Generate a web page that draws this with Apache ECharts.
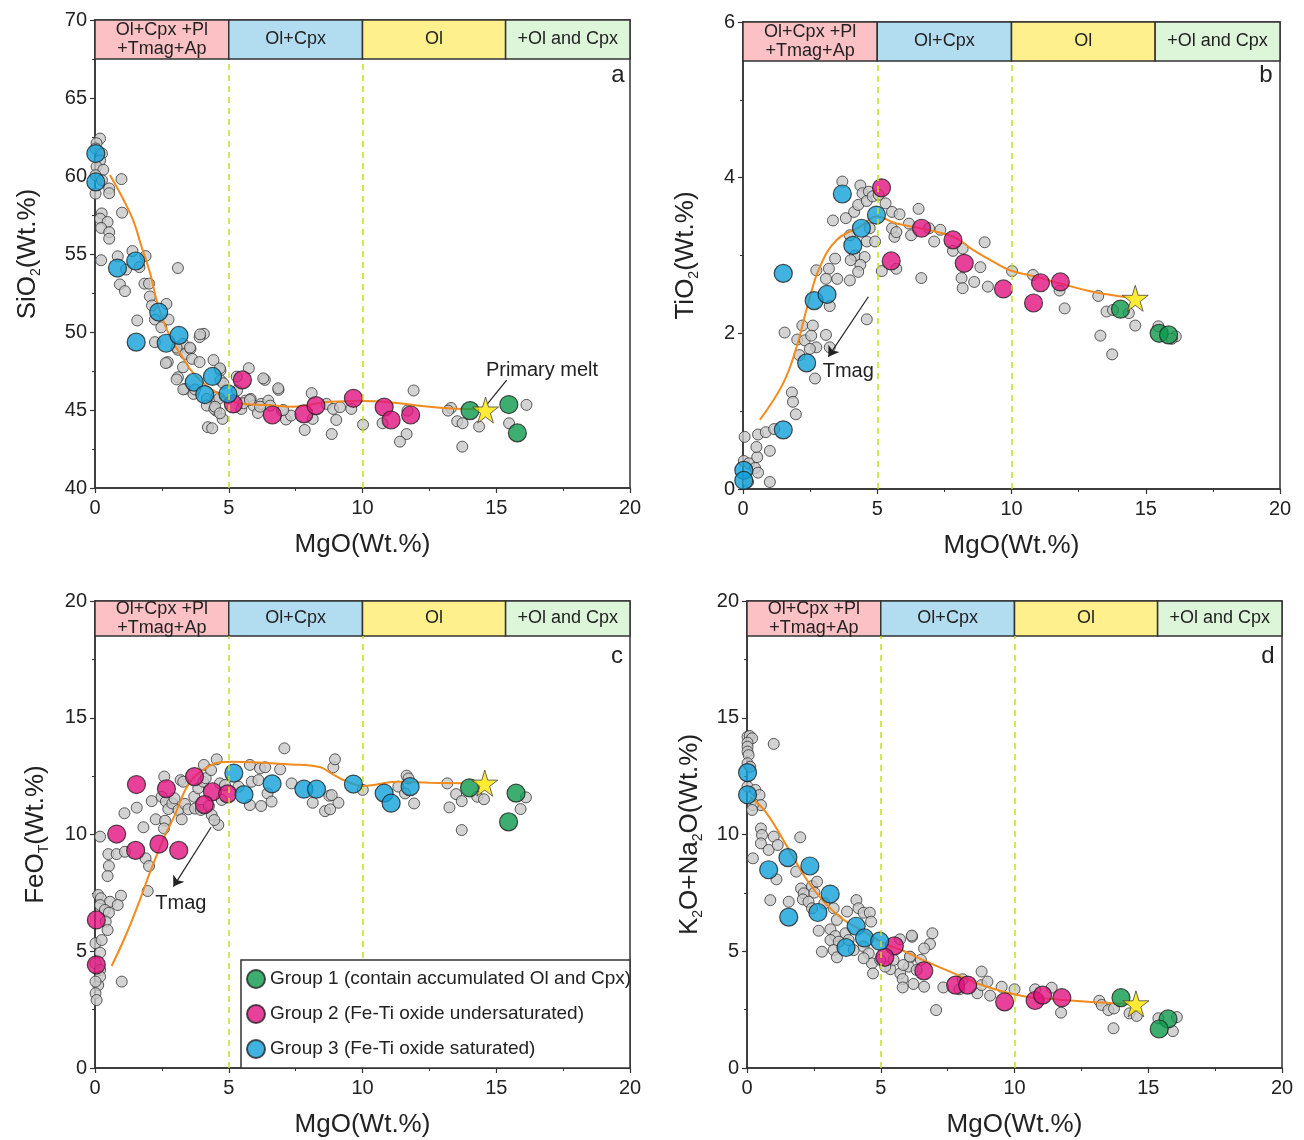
<!DOCTYPE html>
<html>
<head>
<meta charset="utf-8">
<title>MgO variation diagrams</title>
<script src="https://cdn.jsdelivr.net/npm/echarts@6/dist/echarts.min.js"></script>
<style>
  html, body { margin: 0; padding: 0; background: #fff; }
  #chart { width: 1304px; height: 1140px; }
</style>
</head>
<body>
<div id="chart"></div>
<script>
// crystallisation stages along MgO
const bandStops = [0, 5, 10, 15.35, 20];
const bandNames = ['Ol+Cpx +Pl\n+Tmag+Ap', 'Ol+Cpx', 'Ol', '+Ol and Cpx'];
const groupNames = ['Group 1 (contain accumulated Ol and Cpx)', 'Group 2 (Fe-Ti oxide undersaturated)', 'Group 3 (Fe-Ti oxide saturated)'];

// ---- a: SiO2 ----
const aGray = [[0.19,62.4],[0.06,62.1],[0.02,61.76],[0.26,61.44],[0.19,61.0],[0.06,60.6],[0.31,60.4],[0.02,60.05],[0.26,59.73],[0.02,58.87],[0.53,59.2],[0.53,58.9],[0.99,59.8],[0.25,57.6],[0.19,57.27],[0.47,57.05],[0.23,56.67],[0.53,56.4],[0.53,55.98],[1.01,57.65],[0.23,54.6],[0.85,54.85],[1.16,54.0],[0.93,53.05],[1.12,52.62],[1.4,55.19],[1.66,54.16],[1.89,54.87],[1.85,53.1],[2.02,53.1],[2.05,52.28],[2.13,51.7],[2.67,51.8],[2.24,50.8],[2.48,50.3],[2.75,50.8],[3.1,54.1],[1.58,50.74],[2.24,49.35],[2.72,48.07],[3.1,48.86],[3.29,49.24],[3.37,48.6],[3.57,48.92],[4.07,49.88],[3.91,49.67],[3.63,48.28],[3.91,48.07],[3.29,47.74],[3.1,47.1],[3.37,46.35],[3.68,46.03],[4.18,45.71],[4.18,45.28],[4.43,48.2],[4.69,47.53],[4.69,46.9],[4.53,45.82],[4.53,44.96],[4.77,44.43],[4.46,45.07],[4.22,43.9],[4.38,43.83],[5.75,47.68],[5.31,46.25],[5.62,45.6],[5.82,45.71],[5.47,45.07],[5.93,45.28],[6.09,44.81],[6.35,46.93],[6.21,45.39],[6.48,45.6],[6.55,45.28],[6.86,46.29],[6.99,44.96],[7.14,44.39],[7.33,44.64],[8.1,46.08],[8.14,44.43],[7.84,43.72],[8.66,45.39],[8.9,45.07],[9.02,44.36],[8.85,43.46],[9.16,45.18],[9.58,45.07],[10.02,44.06],[11.68,44.96],[11.91,46.25],[11.65,43.46],[11.4,42.97],[10.75,44.15],[13.31,45.13],[13.54,44.28],[13.74,44.15],[13.73,42.65],[14.36,43.94],[15.48,44.15],[16.13,45.33],[13.2,44.96],[4.67,47.67],[4.8,46.71],[4.65,45.75],[4.49,45.21],[4.67,44.79],[5.55,45.43],[5.79,45.64],[5.3,47.14],[6.29,47.03],[6.85,46.39],[6.17,45.21],[7.04,45.0],[3.05,49.0],[3.55,49.0],[3.93,49.85],[2.65,48.01],[3.05,46.96],[3.3,46.32],[3.74,46.32]];
const aG1 = [[14.02,44.96],[15.47,45.35],[15.79,43.53]];
const aG2 = [[5.51,46.93],[5.17,45.39],[6.63,44.68],[7.81,44.75],[8.26,45.28],[9.66,45.75],[10.81,45.18],[11.07,44.36],[11.8,44.68]];
const aG3 = [[0.03,61.44],[0.03,59.62],[0.84,54.1],[1.52,54.55],[1.54,49.35],[2.38,51.28],[2.66,49.28],[3.14,49.78],[3.71,46.78],[4.39,47.15],[4.1,45.99],[4.97,46.03]];
const aTrend = [[0.56,60.06],[1.37,57.39],[1.74,55.47],[2.06,53.76],[2.37,51.62],[2.8,49.7],[3.18,48.63],[3.68,47.35],[4.3,46.39],[4.92,45.75],[5.42,45.43],[6.42,45.32],[7.41,45.21],[8.79,45.53],[9.97,45.57],[10.78,45.53],[11.9,45.32],[12.9,45.15],[14.3,45.05]];
const aStar = [[14.6,45.0]];

// ---- b: TiO2 ----
const bGray = [[0.06,0.67],[0.03,0.36],[0.22,0.33],[0.45,0.27],[0.53,0.41],[0.5,0.54],[0.56,0.7],[0.85,0.73],[1.16,0.77],[1.0,0.49],[1.0,0.09],[0.19,0.09],[0.56,0.21],[1.82,1.24],[1.86,1.12],[1.97,0.96],[1.55,2.01],[2.21,2.1],[2.6,2.1],[2.02,1.92],[2.3,1.91],[2.54,1.97],[2.73,1.82],[2.49,1.8],[2.1,1.72],[3.09,1.98],[3.23,1.82],[2.68,1.42],[2.73,2.81],[3.2,2.83],[3.23,2.35],[3.43,2.96],[3.51,2.7],[3.09,2.7],[3.35,3.45],[3.7,3.95],[3.83,3.48],[3.98,3.26],[4.14,3.56],[4.17,3.0],[4.29,3.65],[4.37,3.9],[4.45,3.8],[4.69,3.82],[4.61,3.7],[4.83,3.76],[4.72,3.35],[4.61,3.18],[4.53,2.98],[4.37,2.88],[3.98,2.68],[4.29,2.79],[4.61,2.18],[4.01,2.94],[4.92,3.18],[5.05,3.78],[5.31,3.67],[5.55,3.56],[5.83,3.53],[5.64,3.24],[5.55,3.35],[5.71,3.3],[5.17,2.8],[5.71,2.83],[6.18,3.41],[6.26,3.26],[6.54,3.6],[6.93,3.35],[7.12,3.18],[7.35,3.33],[6.64,2.71],[7.82,3.06],[8.18,3.09],[8.14,2.71],[8.18,2.58],[8.61,2.66],[8.84,2.85],[9.0,3.17],[9.12,2.6],[10.02,2.8],[10.8,2.75],[11.79,2.55],[11.98,2.32],[13.23,2.48],[13.54,2.28],[13.78,2.3],[14.37,2.26],[14.61,2.1],[13.31,1.97],[13.75,1.73],[15.47,2.09],[16.12,1.96],[15.97,1.93]];
const bG1 = [[14.06,2.31],[15.5,2.0],[15.85,1.98]];
const bG2 = [[5.16,3.87],[5.52,2.93],[6.65,3.35],[7.82,3.2],[8.24,2.9],[9.7,2.57],[10.82,2.39],[11.08,2.65],[11.82,2.66]];
const bG3 = [[0.03,0.24],[0.03,0.11],[1.5,0.76],[1.5,2.77],[2.65,2.42],[3.13,2.5],[2.37,1.62],[3.7,3.79],[4.09,3.13],[4.41,3.35],[4.97,3.52]];
const bTrend = [[0.63,0.89],[1.5,1.36],[2.0,1.83],[2.43,2.39],[2.87,2.86],[3.49,3.2],[4.36,3.37],[4.98,3.5],[5.72,3.41],[6.59,3.35],[7.83,3.24],[8.58,3.07],[9.32,2.92],[9.94,2.81],[10.88,2.73],[11.82,2.64],[13.07,2.53],[14.4,2.46]];
const bStar = [[14.61,2.45]];

// ---- c: FeOT ----
const cGray = [[0.19,9.91],[1.1,10.91],[1.56,11.15],[1.81,10.31],[2.12,11.43],[2.27,10.65],[2.59,12.48],[2.49,11.62],[2.65,11.41],[2.62,10.59],[2.58,10.26],[2.74,11.09],[2.89,11.33],[2.97,11.55],[3.12,11.05],[3.2,12.33],[3.3,12.26],[3.24,10.65],[3.36,11.31],[3.49,11.08],[3.71,11.62],[3.74,11.11],[3.86,11.98],[4.07,12.98],[3.96,11.05],[4.05,12.26],[4.14,12.41],[4.34,12.76],[4.55,13.22],[4.26,11.22],[4.36,10.84],[4.61,10.41],[4.46,10.62],[4.67,12.19],[4.74,11.48],[4.86,12.12],[5.36,12.05],[5.79,12.98],[6.17,12.83],[6.36,12.88],[6.45,11.76],[6.6,11.41],[6.92,12.79],[7.08,13.69],[6.21,11.22],[5.79,11.26],[5.86,12.26],[6.11,12.33],[7.35,12.19],[8.6,11.0],[8.79,11.08],[8.91,12.88],[8.97,13.22],[8.76,11.66],[9.1,11.36],[8.14,11.36],[0.5,9.16],[0.81,9.16],[1.12,9.26],[1.89,8.98],[2.02,8.65],[0.52,8.65],[0.47,8.22],[1.97,7.58],[0.12,7.41],[0.22,7.27],[0.56,7.12],[0.19,6.98],[0.97,7.38],[0.85,6.98],[0.37,6.77],[0.52,6.65],[0.4,6.27],[0.47,5.91],[0.02,5.34],[0.25,5.48],[0.19,4.94],[0.02,4.48],[0.19,4.2],[1.0,3.7],[0.12,3.55],[0.02,3.2],[0.06,2.91],[0.19,3.91],[0.02,3.7],[8.85,11.69],[10.01,11.91],[11.65,12.52],[11.72,12.4],[11.34,12.05],[11.59,11.76],[11.93,11.33],[13.17,12.19],[13.5,11.73],[13.71,11.43],[13.25,11.16],[13.71,10.19],[14.29,11.62],[14.54,11.51],[16.11,11.59],[15.91,11.09]];
const cG1 = [[14.0,12.0],[15.74,11.77],[15.46,10.54]];
const cG2 = [[1.55,12.14],[2.67,11.96],[3.72,12.48],[4.39,11.83],[4.09,11.28],[4.96,11.74],[0.81,10.02],[1.52,9.32],[2.39,9.59],[3.13,9.32],[0.05,6.34],[0.05,4.42]];
const cG3 = [[5.19,12.63],[5.57,11.71],[6.62,12.17],[7.81,11.94],[8.28,11.94],[9.66,12.16],[10.81,11.77],[11.07,11.34],[11.78,12.05]];
const cTrend = [[0.62,4.37],[1.12,5.6],[1.66,7.14],[2.05,8.37],[2.59,9.9],[2.98,10.82],[3.44,12.05],[3.91,12.66],[4.68,13.09],[5.15,13.12],[7.32,13.0],[8.4,12.89],[8.79,12.65],[9.35,12.3],[10.05,12.08],[11.29,12.26],[12.52,12.22],[13.75,12.19]];
const cStar = [[14.57,12.2]];

// ---- d: K2O+Na2O ----
const dGray = [[0.02,14.19],[0.1,14.22],[0.19,14.12],[0.02,13.93],[0.02,13.76],[0.02,13.55],[0.06,13.4],[1.0,13.88],[0.02,13.05],[0.12,12.9],[0.02,12.05],[0.31,11.91],[0.47,11.69],[0.52,11.26],[0.22,11.26],[0.19,11.05],[0.52,10.26],[0.56,9.98],[1.0,9.91],[1.99,9.88],[0.52,9.62],[0.81,9.34],[1.15,9.55],[0.22,8.98],[1.1,8.08],[1.84,8.41],[2.02,7.69],[2.12,7.48],[2.43,7.79],[2.62,7.98],[2.52,7.51],[2.09,7.22],[2.3,7.12],[2.43,6.84],[0.87,7.19],[1.56,7.12],[2.89,7.05],[3.24,6.84],[3.36,6.34],[3.74,6.7],[4.09,7.19],[4.17,6.84],[4.36,6.65],[4.59,6.65],[4.64,6.27],[2.68,5.88],[3.12,5.94],[3.3,5.65],[3.12,5.48],[3.43,5.41],[3.68,5.77],[3.8,5.48],[2.8,4.98],[3.24,5.05],[3.36,4.74],[3.99,5.05],[4.36,5.2],[4.55,4.91],[4.67,4.48],[4.36,4.7],[4.71,4.05],[5.36,4.23],[5.73,4.05],[6.17,5.62],[6.11,4.74],[6.05,4.34],[5.17,4.34],[5.48,4.63],[4.98,4.63],[6.16,5.67],[6.93,5.77],[6.84,5.31],[6.62,5.12],[5.72,5.51],[6.09,4.77],[6.5,4.63],[5.84,4.41],[6.34,4.2],[5.82,3.81],[6.22,3.6],[6.62,3.48],[5.82,3.45],[7.34,3.45],[7.07,2.48],[8.06,3.8],[7.94,3.37],[8.61,3.2],[8.77,3.55],[8.77,4.13],[8.99,3.7],[9.09,3.1],[9.52,3.48],[10.0,3.37],[10.77,3.37],[11.39,3.44],[11.74,2.37],[13.17,2.88],[13.26,2.7],[13.51,2.48],[13.72,2.55],[13.7,1.7],[14.3,2.34],[14.57,2.23],[15.38,2.13],[16.07,2.18],[15.92,1.58]];
const dG1 = [[13.98,3.01],[15.74,2.1],[15.41,1.67]];
const dG2 = [[5.51,5.23],[5.15,4.74],[6.61,4.16],[7.8,3.55],[8.25,3.55],[9.63,2.83],[10.77,2.89],[11.05,3.12],[11.77,3.01]];
const dG3 = [[0.02,12.65],[0.02,11.7],[0.81,8.49],[1.53,9.01],[2.35,8.65],[1.56,6.46],[2.65,6.66],[3.11,7.45],[4.08,6.07],[4.39,5.57],[3.7,5.16],[4.96,5.43]];
const dTrend = [[0.12,11.6],[0.69,10.98],[1.5,9.48],[2.24,8.05],[2.93,7.05],[3.61,6.35],[4.36,5.85],[5.1,5.35],[5.84,5.02],[6.72,4.55],[7.59,4.13],[8.59,3.63],[9.46,3.31],[10.46,3.05],[11.2,2.98],[12.2,2.88],[13.19,2.8],[14.3,2.74]];
const dStar = [[14.54,2.75]];

const bandColors = ['#fcc1c5', '#b2dcf0', '#fff08e', '#ddf6da'];
const groupColors = ['#0e9a4c', '#e2127f', '#12a0d8'];
const starPath = 'path://M50,0 L61,35 L98,35 L68,57 L79,91 L50,70 L21,91 L32,57 L2,35 L39,35 Z';

const panels = [
  { grid: {left: 95, top: 20, width: 535, height: 468}, yMin: 40, yMax: 70, yStep: 5, band: 67.5,
    name: '{t|SiO}{s|2}{t|(Wt.%)}', nameGap: 52, letter: ['a', 618, 75],
    gray: aGray, groups: [aG1, aG2, aG3], trend: aTrend, star: aStar,
    arrows: [[{coord: [15.39, 46.92], symbol: 'none'}, {coord: [14.67, 45.4], symbol: 'none'}]],
    notes: [{name: 'Primary melt', coord: [16.71, 47.56]}] },
  { grid: {left: 743, top: 22, width: 537, height: 467}, yMin: 0, yMax: 6, yStep: 2, band: 5.5,
    name: '{t|TiO}{s|2}{t|(Wt.%)}', nameGap: 42, letter: ['b', 1266, 75],
    gray: bGray, groups: [bG1, bG2, bG3], trend: bTrend, star: bStar,
    arrows: [[{coord: [4.67, 2.47], symbol: 'none'}, {coord: [3.18, 1.7], symbol: 'arrow'}]],
    notes: [{name: 'Tmag', coord: [3.92, 1.51]}] },
  { grid: {left: 95, top: 601, width: 535, height: 467}, yMin: 0, yMax: 20, yStep: 5, band: 18.5,
    name: '{t|FeO}{s|T}{t|(Wt.%)}', nameGap: 44, letter: ['c', 617, 656],
    gray: cGray, groups: [cG1, cG2, cG3], trend: cTrend, star: cStar,
    arrows: [[{coord: [4.34, 10.31], symbol: 'none'}, {coord: [2.93, 7.77], symbol: 'arrow'}]],
    notes: [{name: 'Tmag', coord: [3.21, 7.05]}] },
  { grid: {left: 747, top: 601, width: 535, height: 467}, yMin: 0, yMax: 20, yStep: 5, band: 18.5,
    name: '{t|K}{s|2}{t|O+Na}{s|2}{t|O(Wt.%)}', nameGap: 42, letter: ['d', 1268, 656],
    gray: dGray, groups: [dG1, dG2, dG3], trend: dTrend, star: dStar,
    arrows: [], notes: [] }
];

const axisCommon = {
  type: 'value',
  axisLine: {show: true, onZero: false, lineStyle: {color: '#333', width: 1.5}},
  axisTick: {show: true, length: 5, lineStyle: {color: '#333', width: 1.2}},
  minorTick: {show: true, splitNumber: 2, length: 3, lineStyle: {color: '#333', width: 1}},
  axisLabel: {fontSize: 20, color: '#222', fontFamily: 'Arial'},
  splitLine: {show: false}
};

const option = {
  animation: false,
  textStyle: {fontFamily: 'Arial, "Liberation Sans", sans-serif'},
  grid: [], xAxis: [], yAxis: [], series: [],
  legend: {
    data: groupNames, orient: 'vertical', left: 241, top: 964,
    itemWidth: 18, itemHeight: 18, itemGap: 15, icon: 'circle',
    textStyle: {fontSize: 19, lineHeight: 18, color: '#222'}, selectedMode: false, z: 200
  },
  graphic: [
    {type: 'rect', z: 100, shape: {x: 241, y: 960, width: 389, height: 108},
     style: {fill: '#fff', stroke: '#333', lineWidth: 1.5}}
  ]
};

panels.forEach(function (p, i) {
  option.grid.push(Object.assign({show: true, borderColor: '#333', borderWidth: 1.5}, p.grid));
  option.xAxis.push(Object.assign({}, axisCommon, {
    gridIndex: i, min: 0, max: 20, interval: 5,
    name: 'MgO(Wt.%)', nameLocation: 'middle', nameGap: 44,
    nameTextStyle: {fontSize: 26, color: '#222'},
    axisLabel: {fontSize: 20, color: '#222', margin: 10}
  }));
  option.yAxis.push(Object.assign({}, axisCommon, {
    gridIndex: i, min: p.yMin, max: p.yMax, interval: p.yStep,
    name: p.name, nameLocation: 'middle', nameGap: p.nameGap,
    nameTextStyle: {color: '#222', rich: {
      t: {fontSize: 26, color: '#222', lineHeight: 30},
      s: {fontSize: 14, color: '#222', lineHeight: 10, verticalAlign: 'bottom'}
    }},
    axisLabel: {fontSize: 20, color: '#222', margin: 8}
  }));

  // background dots, with the stage band and the dashed stage limits
  option.series.push({
    type: 'scatter', name: 'data', xAxisIndex: i, yAxisIndex: i, z: 2,
    data: p.gray, symbolSize: 11,
    itemStyle: {color: '#c8c8c8', borderColor: '#333', borderWidth: 1},
    markArea: {
      silent: true,
      label: {show: true, position: 'inside', fontSize: 18, color: '#222', lineHeight: 19},
      data: bandNames.map(function (n, k) {
        return [
          {name: n, xAxis: bandStops[k], yAxis: p.band,
           itemStyle: {color: bandColors[k], borderColor: '#333', borderWidth: 1.5}},
          {xAxis: bandStops[k + 1], yAxis: p.yMax}
        ];
      })
    },
    markLine: {
      silent: true, symbol: 'none', label: {show: false},
      lineStyle: {color: '#c3df1f', type: [6, 5], width: 1.5},
      data: [
        [{coord: [5, p.yMin]}, {coord: [5, p.band]}],
        [{coord: [10, p.yMin]}, {coord: [10, p.band]}]
      ]
    }
  });

  // fractionation trend + annotations
  option.series.push({
    type: 'line', name: 'trend', xAxisIndex: i, yAxisIndex: i, z: 3,
    data: p.trend, smooth: 0.4, showSymbol: false, symbol: 'none',
    lineStyle: {color: '#f28a1c', width: 2},
    markLine: {
      silent: true, label: {show: false}, symbolSize: 10,
      lineStyle: {color: '#222', width: 1.2, type: 'solid'},
      data: p.arrows
    },
    markPoint: {
      silent: true, symbol: 'circle', symbolSize: 1,
      itemStyle: {color: 'rgba(0,0,0,0)'},
      label: {show: true, position: 'inside', formatter: '{b}', fontSize: 20, color: '#222'},
      data: p.notes
    }
  });

  p.groups.forEach(function (g, k) {
    option.series.push({
      type: 'scatter', name: groupNames[k], xAxisIndex: i, yAxisIndex: i, z: 4,
      data: g, symbolSize: 18,
      itemStyle: {color: groupColors[k], borderColor: '#222', borderWidth: 1.2}
    });
  });

  option.series.push({
    type: 'scatter', name: 'Primary melt', xAxisIndex: i, yAxisIndex: i, z: 5,
    data: p.star, symbol: starPath, symbolSize: 26,
    itemStyle: {color: '#ffe600', borderColor: '#444', borderWidth: 1}
  });

  option.graphic.push({
    type: 'text', x: p.letter[1], y: p.letter[2], z: 50,
    style: {text: p.letter[0], fontSize: 24, fontFamily: 'Arial', fill: '#222', align: 'center', verticalAlign: 'middle'}
  });
});

const chart = echarts.init(document.getElementById('chart'));
chart.setOption(option);
</script>
</body>
</html>
